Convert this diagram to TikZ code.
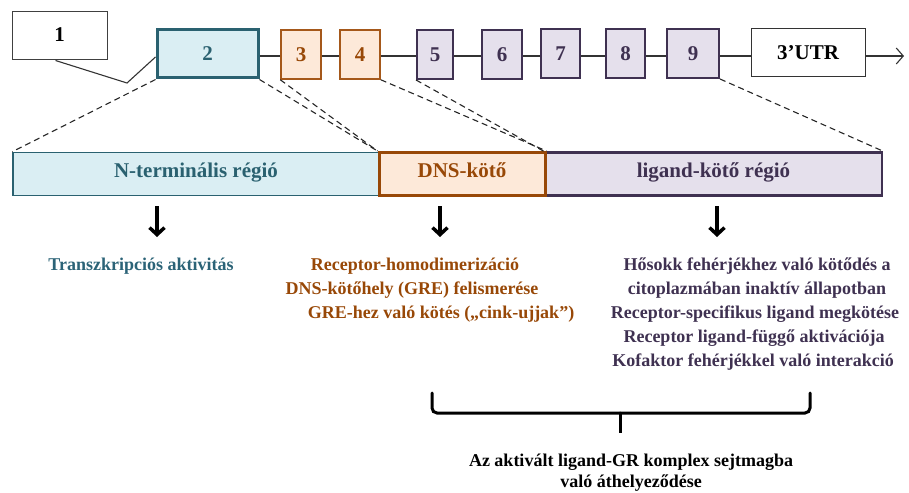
\documentclass[tikz,border=0pt]{standalone}
\usepackage{fontspec}
\setmainfont{Liberation Serif}
\usetikzlibrary{arrows.meta}
\definecolor{tealB}{HTML}{2A6170}
\definecolor{tealF}{HTML}{DAEEF3}
\definecolor{tealT}{HTML}{2B6377}
\definecolor{orB}{HTML}{A5581A}
\definecolor{orD}{HTML}{984807}
\definecolor{orF}{HTML}{FDE9D9}
\definecolor{puB}{HTML}{3F3151}
\definecolor{puF}{HTML}{E5E0EC}
\definecolor{lineG}{HTML}{333333}
\begin{document}
\begin{tikzpicture}[x=1pt,y=-1pt,
  every node/.style={font=\bfseries},
  exon/.style={draw, inner sep=0pt, font=\fontsize{21}{24}\selectfont\bfseries},
  tealbox/.style={exon, draw=tealB, fill=tealF, text=tealB},
  orbox/.style={exon, draw=orB, fill=orF, text=orD, line width=1.5pt},
  pubox/.style={exon, draw=puB, fill=puF, text=puB, line width=2pt},
  barbox/.style={draw, inner sep=0pt, minimum height=43pt, text height=0.66em, text depth=0pt, font=\fontsize{21}{24}\selectfont\bfseries},
  bb/.style={draw=lineG, line width=1.1pt},
  zoomline/.style={dashed, dash pattern=on 6pt off 4pt, line width=1.1pt, draw=black!85},
  txt/.style={anchor=base, inner sep=0pt, font=\fontsize{18}{24}\selectfont\bfseries},
  bigarrow/.style={line width=3.5pt, -{Straight Barb[length=7pt,width=15pt,line width=3.5pt]}},
  bracestyle/.style={line width=3pt, rounded corners=5pt, line cap=round}
]
\useasboundingbox (0,0) rectangle (909,492);

% top exons
\node[exon, draw=black!75, line width=1pt, minimum width=95pt, minimum height=48pt] (e1) at (59.5,36) {\raisebox{2pt}{1}};
\node[tealbox, line width=3pt, minimum width=101pt, minimum height=48pt] (e2) at (207.5,54) {2};
\node[orbox, minimum width=40pt, minimum height=49pt] (e3) at (301,54.5) {3};
\node[orbox, minimum width=40pt, minimum height=49pt] (e4) at (360,54.5) {4};
\node[pubox, minimum width=36pt, minimum height=49pt] (e5) at (435,54.5) {5};
\node[pubox, minimum width=40pt, minimum height=49pt] (e6) at (502,54.5) {6};
\node[pubox, minimum width=39pt, minimum height=49pt] (e7) at (560.5,53.5) {7};
\node[pubox, minimum width=39pt, minimum height=49pt] (e8) at (625.5,53.5) {8};
\node[pubox, minimum width=52pt, minimum height=49pt] (e9) at (693,53.5) {9};
\node[exon, draw=black!80, line width=1pt, minimum width=114pt, minimum height=48pt] (utr) at (808,53) {3’UTR};
\coordinate (kink) at (127,83);
\coordinate (tail) at (904,56);

\draw[bb] ([xshift=-4pt]e1.south) -- (kink) -- ([yshift=-3pt]e2.west);
\draw[bb] (e2.east |- 0,56) -- (e3.west |- 0,56);
\draw[bb] (e3.east |- 0,56) -- (e4.west |- 0,56);
\draw[bb] (e4.east |- 0,56) -- (e5.west |- 0,56);
\draw[bb] (e5.east |- 0,56) -- (e6.west |- 0,56);
\draw[bb] (e6.east |- 0,56) -- (e7.west |- 0,56);
\draw[bb] (e7.east |- 0,56) -- (e8.west |- 0,56);
\draw[bb] (e8.east |- 0,56) -- (e9.west |- 0,56);
\draw[bb] (e9.east |- 0,56) -- (utr.west |- 0,56);
\draw[bb, -{Straight Barb[length=7pt,width=16pt]}] (utr.east |- 0,56) -- (tail);

% domain bar
\node[barbox, draw=tealB, fill=tealF, text=tealB, line width=1.5pt, minimum width=366pt] (nt) at (196,174) {N-terminális régió};
\node[barbox, draw=puB, fill=puF, text=puB, line width=2.5pt, minimum width=337pt] (lb) at (713.5,174) {ligand-kötő régió};
\node[barbox, draw=orD, fill=orF, text=orD, line width=3pt, minimum width=166pt] (db) at (462,174) {DNS-kötő};

% zoom lines
\draw[zoomline] (e2.south west) -- (nt.north west);
\draw[zoomline] (e2.south east) -- (db.north west);
\draw[zoomline] (e3.south west) -- (db.north west);
\draw[zoomline] (e4.south east) -- (db.north east);
\draw[zoomline] (e5.south west) -- (lb.north west);
\draw[zoomline] (e9.south east) -- (lb.north east);

% arrows
\coordinate (a1s) at (157,206); \coordinate (a1e) at (157,237);
\coordinate (a2s) at (440,206); \coordinate (a2e) at (440,237);
\coordinate (a3s) at (717,206); \coordinate (a3e) at (717,237);
\draw[bigarrow] (a1s) -- (a1e);
\draw[bigarrow] (a2s) -- (a2e);
\draw[bigarrow] (a3s) -- (a3e);

% texts
\node[txt, text=tealT] (t1) at (141,270) {Transzkripciós aktivitás};
\node[txt, text=orD] (d1) at (415,270) {Receptor-homodimerizáció};
\node[txt, text=orD] (d2) at (412,294) {DNS-kötőhely (GRE) felismerése};
\node[txt, text=orD] (d3) at (441,318) {GRE-hez való kötés („cink-ujjak”)};
\node[txt, text=puB] (l1) at (757,270) {Hősokk fehérjékhez való kötődés a};
\node[txt, text=puB] (l2) at (757,294) {citoplazmában inaktív állapotban};
\node[txt, text=puB] (l3) at (755,318) {Receptor-specifikus ligand megkötése};
\node[txt, text=puB] (l4) at (754,342) {Receptor ligand-függő aktivációja};
\node[txt, text=puB] (l5) at (753,366) {Kofaktor fehérjékkel való interakció};

% brace
\coordinate (brL) at (432,393);
\coordinate (brR) at (810,393);
\coordinate (brM) at (620,413);
\coordinate (brT) at (620,433);
\draw[bracestyle] (brL) |- (brM);
\draw[bracestyle] (brR) |- (brM);
\draw[line width=3pt] (brM) -- (brT);

\node[txt] (f1) at (631,466) {Az aktivált ligand-GR komplex sejtmagba};
\node[txt] (f2) at (631,487) {való áthelyeződése};
\end{tikzpicture}
\end{document}
